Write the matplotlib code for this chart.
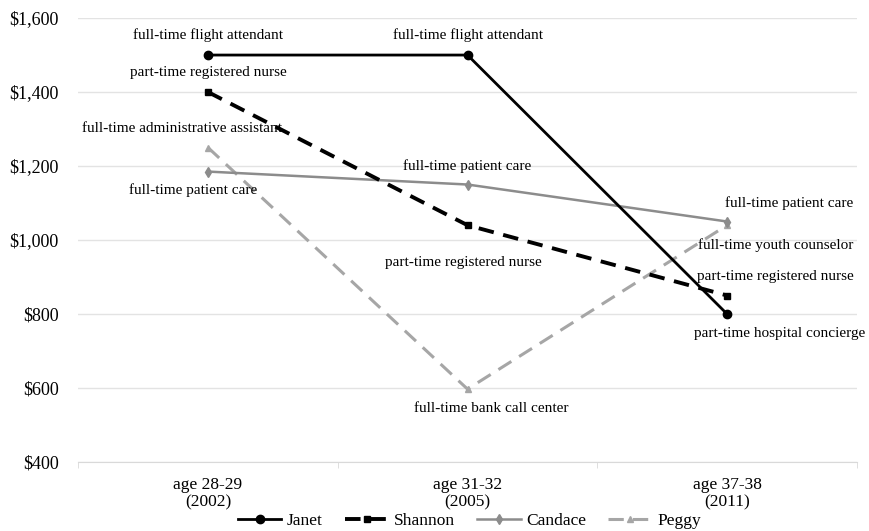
import numpy as np
import matplotlib.pyplot as plt

plt.rcParams['font.family'] = ['Liberation Serif', 'DejaVu Serif']

# Данные
categories = ["age 28-29\n(2002)", "age 31-32\n(2005)", "age 37-38\n(2011)"]
janet = [1500, 1500, 800]
shannon = [1400, 1040, 850]
candace = [1185, 1150, 1050]
peggy = [1250, 597, 1040]

# Подписи точек
labels_janet = ["full-time flight attendant", "full-time flight attendant", "part-time hospital concierge"]
labels_shannon = ["part-time registered nurse", "part-time registered nurse", "part-time registered nurse"]
labels_candace = ["full-time patient care", "full-time patient care", "full-time patient care"]
labels_peggy = ["full-time administrative assistant", "full-time bank call center", "full-time youth counselor"]

x = np.arange(len(categories))

fig = plt.figure(figsize=(8.69, 5.31), dpi=100)
ax = fig.add_axes([0.09, 0.13, 0.896, 0.836])

ax.plot(x, peggy, color='#a6a6a6', lw=2.2, ls=(0, (5, 3)), marker='^', ms=5, label='Peggy', zorder=2)
ax.plot(x, candace, color='#8c8c8c', lw=1.8, marker='d', ms=5, label='Candace', zorder=3)
ax.plot(x, shannon, color='black', lw=2.8, ls=(0, (4, 2.5)), marker='s', ms=5, label='Shannon', zorder=4)
ax.plot(x, janet, color='black', lw=2, marker='o', ms=6, label='Janet', zorder=5)

fs = 11
# смещения подписей в пунктах относительно точки
offsets = {
    'janet': [(0, 14), (0, 14), (38, -14)],
    'shannon': [(0, 14), (-3, -27), (35, 14)],
    'candace': [(-11, -13), (0, 13), (45, 13)],
    'peggy': [(-19, 14), (17, -14), (35, -14)],
}
series = [('janet', janet, labels_janet), ('shannon', shannon, labels_shannon),
          ('candace', candace, labels_candace), ('peggy', peggy, labels_peggy)]
for name, vals, labs in series:
    for i, (v, t) in enumerate(zip(vals, labs)):
        dx, dy = offsets[name][i]
        ax.annotate(t, (x[i], v), xytext=(dx, dy), textcoords='offset points',
                    ha='center', va='center', fontsize=fs, zorder=6)

ax.set_xlim(-0.5, 2.5)
ax.set_ylim(400, 1600)
ax.set_yticks(np.arange(400, 1601, 200))
ax.set_yticklabels(['${:,}'.format(v) for v in range(400, 1601, 200)], fontsize=13)
ax.set_xticks(x)
ax.set_xticklabels(categories, fontsize=12.5, linespacing=1.1)
ax.tick_params(axis='x', which='major', length=0, pad=11)
ax.set_xticks([-0.5, 0.5, 1.5, 2.5], minor=True)
ax.tick_params(axis='x', which='minor', length=4, color='#d9d9d9')
ax.tick_params(axis='y', length=0, pad=14)

ax.grid(axis='y', color='#e3e3e3', lw=1)
ax.set_axisbelow(True)
for s in ['top', 'right', 'left']:
    ax.spines[s].set_visible(False)
ax.spines['bottom'].set_color('#d9d9d9')

h, l = ax.get_legend_handles_labels()
order = [3, 2, 1, 0]
fig.legend([h[i] for i in order], [l[i] for i in order], loc='lower center',
           bbox_to_anchor=(0.54, -0.025), ncol=4, frameon=False, fontsize=12.5,
           handlelength=2.5, columnspacing=1.3, handletextpad=0.3)

fig.savefig('out.png', dpi=100)
